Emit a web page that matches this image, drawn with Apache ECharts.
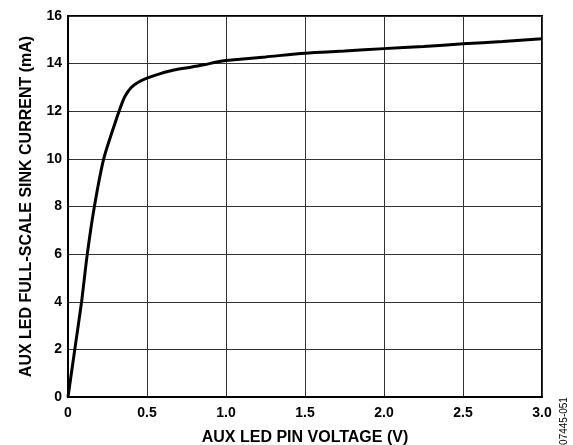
<!DOCTYPE html>
<html>
<head>
<meta charset="utf-8">
<script src="https://cdn.jsdelivr.net/npm/echarts@6/dist/echarts.min.js"></script>
<style>
html,body{margin:0;padding:0;background:#fff;}
#c{width:573px;height:445px;}
</style>
</head>
<body>
<div id="c"></div>
<script>
const voltage = [0, 0.043, 0.086, 0.122, 0.167, 0.226, 0.3, 0.33, 0.36, 0.4, 0.445, 0.5, 0.58, 0.67, 0.77, 0.86, 0.95, 1.0, 1.25, 1.5, 1.75, 2.0, 2.25, 2.5, 2.75, 3.0];
const current = [0, 2, 4, 6, 8, 10, 11.55, 12.13, 12.62, 13.0, 13.22, 13.39, 13.57, 13.73, 13.84, 13.95, 14.08, 14.13, 14.28, 14.44, 14.53, 14.63, 14.72, 14.83, 14.93, 15.04];
const xTicks = ['0', '0.5', '1.0', '1.5', '2.0', '2.5', '3.0'];
const xTitle = 'AUX LED PIN VOLTAGE (V)';
const yTitle = 'AUX LED FULL-SCALE SINK CURRENT (mA)';
const figId = '07445-051';

const chart = echarts.init(document.getElementById('c'), null, {renderer: 'canvas'});
const font = 'Liberation Sans, Arial, sans-serif';
chart.setOption({
  animation: false,
  backgroundColor: '#fff',
  grid: {left: 68, right: 31, top: 16, bottom: 48, show: true, borderColor: '#000', borderWidth: 2,
    containLabel: false, outerBoundsMode: 'none'},
  xAxis: {
    type: 'value', min: 0, max: 3, interval: 0.5,
    name: xTitle, nameLocation: 'middle', nameGap: 33,
    nameTextStyle: {fontFamily: font, fontWeight: 'bold', fontSize: 16, color: '#000'},
    axisLine: {show: true, lineStyle: {color: '#000', width: 2}},
    axisTick: {show: false},
    axisLabel: {margin: 9, fontFamily: font, fontWeight: 'bold', fontSize: 14, color: '#000',
      formatter: v => xTicks[Math.round(v / 0.5)]},
    splitLine: {show: true, lineStyle: {color: '#333', width: 1}}
  },
  yAxis: {
    type: 'value', min: 0, max: 16, interval: 2,
    name: yTitle, nameLocation: 'middle', nameGap: 33,
    nameTextStyle: {fontFamily: font, fontWeight: 'bold', fontSize: 16, color: '#000'},
    axisLine: {show: true, lineStyle: {color: '#000', width: 2}},
    axisTick: {show: false},
    axisLabel: {margin: 6, fontFamily: font, fontWeight: 'bold', fontSize: 14, color: '#000'},
    splitLine: {show: true, lineStyle: {color: '#333', width: 1}}
  },
  graphic: [{
    type: 'text', x: 564, y: 421, rotation: Math.PI / 2,
    style: {text: figId, fontFamily: font, fontSize: 10, fill: '#000', align: 'center', verticalAlign: 'middle'}
  }],
  series: [{
    type: 'line',
    data: voltage.map((v, i) => [v, current[i]]),
    smooth: 0.25,
    showSymbol: false,
    lineStyle: {color: '#000', width: 3},
    z: 5
  }]
});
</script>
</body>
</html>
